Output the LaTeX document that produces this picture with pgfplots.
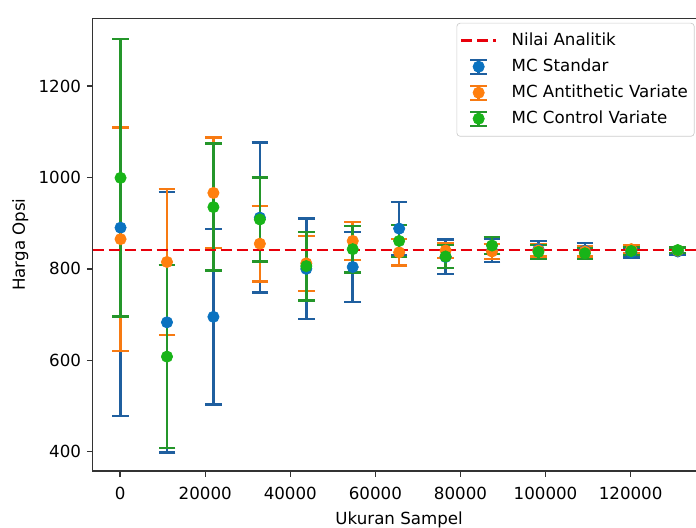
\documentclass[border=0pt]{standalone}
\usepackage{fontspec}
\setmainfont{DejaVu Sans}
\usepackage{pgfplots}
\pgfplotsset{compat=1.18}
\usepackage{pgfplotstable}

\definecolor{mBlue}{HTML}{0A72C0}
\definecolor{eBlue}{HTML}{1F5F9F}
\definecolor{mOrange}{HTML}{FF7F0E}
\definecolor{eOrange}{HTML}{F77A12}
\definecolor{mGreen}{HTML}{18B418}
\definecolor{eGreen}{HTML}{24962A}
\definecolor{cRed}{HTML}{E8000B}

% sample size, price, error (half width)
\pgfplotstableread{
x y e
100 890 412
11014 683 285
21929 695 192
32843 912 164
43757 800 110
54672 804 77
65586 888 58
76500 826 38
87415 840 25
98329 843 18
109243 840 16
120158 836 11
131072 838 8
}\std
\pgfplotstableread{
x y e
100 865 244
11014 815 160
21929 966 121
32843 855 83
43757 812 60
54672 861 41
65586 836 29
76500 840 17
87415 838 17
98329 840 13
109243 838 11
120158 843 8
131072 840 6
}\anti
\pgfplotstableread{
x y e
100 999 303
11014 608 200
21929 935 139
32843 908 92
43757 806 75
54672 843 51
65586 861 35
76500 827 25
87415 851 19
98329 837 15
109243 834 12
120158 839 9
131072 841 6
}\ctrl

\pgfplotsset{
  ebar/.style={forget plot, only marks, mark=none,
    error bars/.cd, y dir=both, y explicit,
    error bar style={#1, line width=1.5pt},
    error mark options={#1, rotate=90, mark size=5pt, line width=1.4pt}},
  errleg/.style 2 args={legend image code/.code={
    \draw[#1, line width=1.5pt] (10.5pt,-4.2pt) -- (10.5pt,4.2pt);
    \draw[#1, line width=1.4pt] (5.5pt,-4.2pt) -- (15.5pt,-4.2pt);
    \draw[#1, line width=1.4pt] (5.5pt,4.2pt) -- (15.5pt,4.2pt);
    \fill[#2] (10.5pt,0) circle (3.4pt);
    \path[draw=none, fill=none] (0pt,0pt) -- (21pt,0pt);
  }},
  dots/.style={only marks, mark=*, mark size=3.4pt,
    mark options={fill=#1, draw=#1}},
}

\begin{document}
\begin{tikzpicture}
\useasboundingbox (0,0) rectangle (417.6pt,316.2pt);
\clip (0,0) rectangle (417.6pt,316.2pt);
\begin{axis}[
  at={(55.62pt,33.6pt)}, anchor=south west,
  scale only axis, width=367.74pt, height=271.62pt,
  xmin=-6448, xmax=137620, ymin=357.8, ymax=1348,
  xtick={0,20000,...,120000}, ytick={400,600,...,1200},
  scaled x ticks=false,
  /pgf/number format/.cd, fixed, 1000 sep={}, assume math mode=true, /pgfplots/.cd,
  xticklabel style={yshift=-2.4pt},
  xlabel style={yshift=-0.8pt},
  ylabel style={yshift=-0.8pt},
  tick align=outside, xtick pos=bottom, ytick pos=left,
  major tick length=3.5pt,
  every tick/.style={black!80, line width=0.8pt},
  axis line style={black!80, line width=0.8pt},
  xlabel={Ukuran Sampel}, ylabel={Harga Opsi},
  legend style={at={(0.982,0.99)}, anchor=north east,
    draw=black!20, rounded corners=2pt, fill=white,
    inner xsep=1.8pt, inner ysep=4pt, row sep=2.5pt,
    font=\normalsize,
    /tikz/every odd column/.append style={column sep=6.5pt}},
  legend cell align=left,
]
\addplot[ebar=eBlue] table[x=x, y=y, y error=e] {\std};
\addplot[ebar=eOrange] table[x=x, y=y, y error=e] {\anti};
\addplot[ebar=eGreen] table[x=x, y=y, y error=e] {\ctrl};

\addplot[cRed, line width=1.6pt, dash pattern=on 6.6pt off 3pt,
  legend image code/.code={\draw[cRed, line width=1.6pt, dash pattern=on 6.6pt off 3pt] (0pt,0pt) -- (21pt,0pt);}]
  coordinates {(-6448,841) (137620,841)};
\addlegendentry{Nilai Analitik}

\addplot[dots=mBlue, errleg={eBlue}{mBlue}] table[x=x, y=y] {\std};
\addlegendentry{MC Standar}
\addplot[dots=mOrange, errleg={eOrange}{mOrange}] table[x=x, y=y] {\anti};
\addlegendentry{MC Antithetic Variate}
\addplot[dots=mGreen, errleg={eGreen}{mGreen}] table[x=x, y=y] {\ctrl};
\addlegendentry{MC Control Variate}
\end{axis}
\end{tikzpicture}
\end{document}
